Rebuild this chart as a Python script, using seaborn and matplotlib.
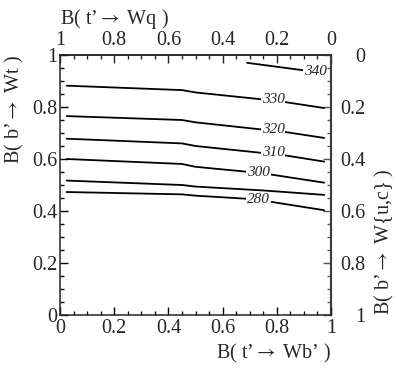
import numpy as np
import pandas as pd
import matplotlib
matplotlib.use("Agg")
import matplotlib.pyplot as plt
import seaborn as sns
from matplotlib.ticker import MultipleLocator, AutoMinorLocator, FuncFormatter

# ---- data: contour lines of t' mass (GeV) in the B(t'->Wb') vs B(b'->Wt) plane
masses = [280, 290, 300, 310, 320, 330, 340]
x_280 = [0.025, 0.45, 0.50, 0.69, 0.78, 0.975]
y_280 = [0.473, 0.464, 0.459, 0.447, 0.435, 0.403]
x_290 = [0.025, 0.45, 0.50, 0.75, 0.975]
y_290 = [0.517, 0.500, 0.494, 0.479, 0.462]
x_300 = [0.025, 0.45, 0.50, 0.69, 0.78, 0.975]
y_300 = [0.600, 0.581, 0.570, 0.551, 0.540, 0.509]
x_310 = [0.025, 0.45, 0.50, 0.74, 0.83, 0.975]
y_310 = [0.678, 0.660, 0.650, 0.624, 0.614, 0.590]
x_320 = [0.025, 0.45, 0.50, 0.74, 0.83, 0.975]
y_320 = [0.765, 0.750, 0.741, 0.714, 0.704, 0.681]
x_330 = [0.025, 0.45, 0.50, 0.74, 0.83, 0.975]
y_330 = [0.882, 0.865, 0.856, 0.830, 0.819, 0.796]
x_340 = [0.69, 0.90, 0.975]
y_340 = [0.970, 0.941, 0.933]

# labelled contours and label anchor points
label_masses = [280, 300, 310, 320, 330, 340]
label_x = [0.732, 0.732, 0.787, 0.787, 0.787, 0.942]
label_y = [0.445, 0.549, 0.624, 0.714, 0.830, 0.937]

xlabel = "B( t\u2019$\\rightarrow$ Wb\u2019 )"
ylabel = "B( b\u2019$\\rightarrow$ Wt )"
top_label = "B( t\u2019$\\rightarrow$ Wq )"
right_label = "B( b\u2019$\\rightarrow$ W{u,c} )"

lines = {280: (x_280, y_280), 290: (x_290, y_290), 300: (x_300, y_300),
         310: (x_310, y_310), 320: (x_320, y_320), 330: (x_330, y_330),
         340: (x_340, y_340)}
rows = []
for m in masses:
    xs, ys = lines[m]
    for i, (xv, yv) in enumerate(zip(xs, ys)):
        rows.append({"mass": m, "order": i, "x": xv, "y": yv})
df = pd.DataFrame(rows)

# ---- style
sns.set_style("ticks")
plt.rcParams["font.family"] = ["Liberation Serif", "DejaVu Serif"]
plt.rcParams["mathtext.fontset"] = "stix"
plt.rcParams["axes.linewidth"] = 1.1

fig = plt.figure(figsize=(3.99, 3.71), dpi=100)
ax = fig.add_axes([60 / 399, 1 - 315 / 371, 271 / 399, 260 / 371])

sns.lineplot(data=df, x="x", y="y", units="mass", estimator=None, sort=False,
             color="black", lw=1.3, legend=False, ax=ax)

for m, lx, ly in zip(label_masses, label_x, label_y):
    ax.text(lx, ly, str(m), style="italic", fontsize=11, ha="center", va="center",
            bbox=dict(fc="white", ec="none", pad=0.6), zorder=5)

ax.set_xlim(0, 1)
ax.set_ylim(0, 1)

def fmt(v, p):
    v = round(v, 3) + 0.0
    return f"{v:g}"

formatter = FuncFormatter(fmt)
FS = 14.5

ax.xaxis.set_major_locator(MultipleLocator(0.2))
ax.yaxis.set_major_locator(MultipleLocator(0.2))
ax.xaxis.set_minor_locator(AutoMinorLocator(4))
ax.yaxis.set_minor_locator(AutoMinorLocator(4))
ax.xaxis.set_major_formatter(formatter)
ax.yaxis.set_major_formatter(formatter)
ax.tick_params(which="both", direction="in", top=False, right=False, labelsize=FS,
               color="black", width=1.0)
ax.tick_params(which="major", length=6)
ax.tick_params(which="minor", length=3)
ax.tick_params(axis="x", pad=3)
ax.tick_params(axis="y", pad=2)

ax.set_xlabel(xlabel, fontsize=FS, loc="right", labelpad=3)
ax.set_ylabel(ylabel, fontsize=FS, loc="top", labelpad=4)

inv = (lambda v: 1 - v, lambda v: 1 - v)
secx = ax.secondary_xaxis("top", functions=inv)
secx.xaxis.set_major_locator(MultipleLocator(0.2))
secx.xaxis.set_minor_locator(AutoMinorLocator(4))
secx.xaxis.set_major_formatter(formatter)
secx.tick_params(which="both", direction="in", labelsize=FS, width=1.0)
secx.tick_params(which="major", length=6)
secx.tick_params(which="minor", length=3)
secx.set_xlabel(top_label, fontsize=FS, loc="left", labelpad=5)

secy = ax.secondary_yaxis("right", functions=inv)
secy.yaxis.set_major_locator(MultipleLocator(0.2))
secy.yaxis.set_minor_locator(AutoMinorLocator(4))
secy.yaxis.set_major_formatter(formatter)
secy.tick_params(which="both", direction="in", labelsize=FS, width=1.0,
                 color="#555555")
secy.tick_params(which="major", length=6, pad=25)
secy.tick_params(which="minor", length=3)
for t in secy.get_yticklabels():
    t.set_ha("right")
secy.spines["right"].set_color("#888888")
secy.spines["right"].set_linewidth(1.6)
secy.set_ylabel(right_label, fontsize=FS, loc="bottom", labelpad=5)

fig.savefig("out.png", dpi=100)
